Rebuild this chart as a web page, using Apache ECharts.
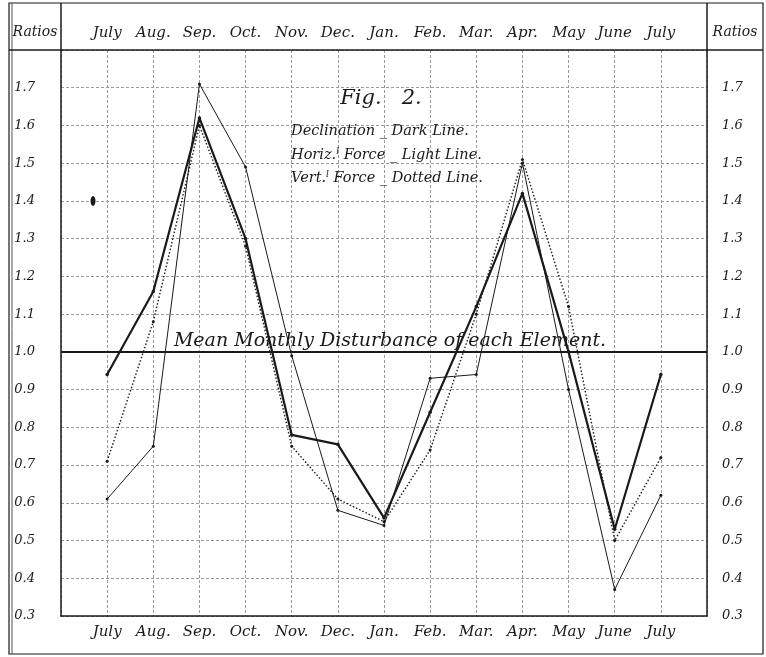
<!DOCTYPE html>
<html>
<head>
<meta charset="utf-8">
<script src="https://cdn.jsdelivr.net/npm/echarts@6/dist/echarts.min.js"></script>
<style>
html,body{margin:0;padding:0;background:#fff;}
#chart{width:766px;height:657px;}
</style>
</head>
<body>
<div id="chart"></div>
<script>
// Month columns (July to July)
const months = ['July','Aug.','Sep.','Oct.','Nov.','Dec.','Jan.','Feb.','Mar.','Apr.','May','June','July'];
// Ratios to mean monthly disturbance
const declination = [0.94, 1.16, 1.62, 1.30, 0.78, 0.755, 0.56, 0.84, 1.12, 1.42, 1.00, 0.53, 0.94];
const horizontalForce = [0.61, 0.75, 1.71, 1.49, 0.99, 0.58, 0.54, 0.93, 0.94, 1.50, 0.90, 0.37, 0.62];
const verticalForce = [0.71, 1.08, 1.60, 1.28, 0.75, 0.61, 0.55, 0.74, 1.10, 1.51, 1.12, 0.50, 0.72];
const meanLevel = 1.0;

const FONT = 'DejaVu Serif';
const ink = '#1a1a1a';
const pair = arr => arr.map((v, i) => [i, v]);

const chart = echarts.init(document.getElementById('chart'), null, {renderer: 'canvas'});

const monthLabel = v => (v >= 0 && v <= 12 && Number.isInteger(v)) ? months[v] : '';
const ratioLabel = v => Math.round(v * 10) >= 18 ? '' : v.toFixed(1);

const labelStyle = {fontFamily: FONT, fontStyle: 'italic', fontSize: 15, color: ink};
const gridLine = {show: true, lineStyle: {color: '#9a9a9a', width: 1, type: [3, 2]}};

chart.setOption({
  backgroundColor: '#ffffff',
  animation: false,
  grid: {left: 61, right: 59, top: 50, bottom: 41, containLabel: false},
  xAxis: [
    {
      type: 'value', min: -1, max: 13, interval: 1, position: 'bottom',
      axisLine: {show: true, onZero: false, lineStyle: {color: ink, width: 1.5}},
      axisTick: {show: false},
      axisLabel: Object.assign({formatter: monthLabel, margin: 9}, labelStyle),
      splitLine: gridLine
    },
    {
      type: 'value', min: -1, max: 13, interval: 1, position: 'top',
      axisLine: {show: false, onZero: false},
      axisTick: {show: false},
      axisLabel: Object.assign({formatter: monthLabel, margin: 9}, labelStyle),
      splitLine: {show: false}
    }
  ],
  yAxis: [
    {
      type: 'value', min: 0.3, max: 1.8, interval: 0.1, position: 'left',
      axisLine: {show: true, onZero: false, lineStyle: {color: ink, width: 1.5}},
      axisTick: {show: false},
      axisLabel: Object.assign({formatter: ratioLabel, margin: 26}, labelStyle, {fontSize: 13}),
      splitLine: gridLine
    },
    {
      type: 'value', min: 0.3, max: 1.8, interval: 0.1, position: 'right',
      axisLine: {show: true, onZero: false, lineStyle: {color: ink, width: 1.5}},
      axisTick: {show: false},
      axisLabel: Object.assign({formatter: ratioLabel, margin: 15}, labelStyle, {fontSize: 13}),
      splitLine: {show: false}
    }
  ],
  series: [
    {
      name: 'Declination', type: 'line', data: pair(declination),
      lineStyle: {color: ink, width: 2.2},
      symbol: 'circle', symbolSize: 3.5, itemStyle: {color: ink},
      z: 5,
      markLine: {
        silent: true, symbol: 'none', label: {show: false},
        lineStyle: {color: ink, width: 2, type: 'solid'},
        data: [{yAxis: meanLevel}]
      }
    },
    {
      name: 'Horiz. Force', type: 'line', data: pair(horizontalForce),
      lineStyle: {color: ink, width: 1},
      symbol: 'circle', symbolSize: 3, itemStyle: {color: ink},
      z: 4
    },
    {
      name: 'Vert. Force', type: 'line', data: pair(verticalForce),
      lineStyle: {color: ink, width: 1.4, type: [1.5, 2]},
      symbol: 'circle', symbolSize: 3, itemStyle: {color: ink},
      z: 4
    }
  ],
  graphic: [
    // outer frame
    {type: 'rect', shape: {x: 9, y: 3, width: 754, height: 651}, style: {fill: 'none', stroke: ink, lineWidth: 1.2}, z: 10},
    {type: 'line', shape: {x1: 12, y1: 3, x2: 12, y2: 654}, style: {stroke: '#555', lineWidth: 1}, z: 10},
    // header rule
    {type: 'line', shape: {x1: 9, y1: 50, x2: 763, y2: 50}, style: {stroke: ink, lineWidth: 1.5}, z: 10},
    {type: 'line', shape: {x1: 61, y1: 3, x2: 61, y2: 50}, style: {stroke: ink, lineWidth: 1.5}, z: 10},
    {type: 'line', shape: {x1: 707, y1: 3, x2: 707, y2: 50}, style: {stroke: ink, lineWidth: 1.5}, z: 10},
    // Ratios headers
    {type: 'text', x: 35, y: 32, style: {text: 'Ratios', font: 'italic 14px "DejaVu Serif"', fill: ink, align: 'center', verticalAlign: 'middle'}, z: 10},
    {type: 'text', x: 735, y: 32, style: {text: 'Ratios', font: 'italic 14px "DejaVu Serif"', fill: ink, align: 'center', verticalAlign: 'middle'}, z: 10},
    // Fig. 2.
    {type: 'text', x: 381, y: 99, style: {text: 'Fig.   2.', font: 'italic 21px "DejaVu Serif"', fill: ink, align: 'center', verticalAlign: 'middle'}, z: 10},
    // key
    {type: 'text', x: 291, y: 131, style: {text: 'Declination _ Dark Line.', font: 'italic 14.5px "DejaVu Serif"', fill: ink, align: 'left', verticalAlign: 'middle'}, z: 10},
    {type: 'text', x: 291, y: 155, style: {
      text: 'Horiz.{s|l} Force _ Light Line.', font: 'italic 14.5px "DejaVu Serif"', fill: ink, align: 'left', verticalAlign: 'middle',
      rich: {s: {font: 'italic 9px "DejaVu Serif"', fill: ink, verticalAlign: 'top'}}
    }, z: 10},
    {type: 'text', x: 291, y: 178, style: {
      text: 'Vert.{s|l} Force _ Dotted Line.', font: 'italic 14.5px "DejaVu Serif"', fill: ink, align: 'left', verticalAlign: 'middle',
      rich: {s: {font: 'italic 9px "DejaVu Serif"', fill: ink, verticalAlign: 'top'}}
    }, z: 10},
    // mean line caption
    {type: 'text', x: 390, y: 341, style: {text: 'Mean Monthly Disturbance of each Element.', font: 'italic 19px "DejaVu Serif"', fill: ink, align: 'center', verticalAlign: 'middle'}, z: 10},
    // ink blot
    {type: 'ellipse', shape: {cx: 93, cy: 201, rx: 2.5, ry: 5}, style: {fill: ink}, z: 10}
  ]
});
</script>
</body>
</html>
